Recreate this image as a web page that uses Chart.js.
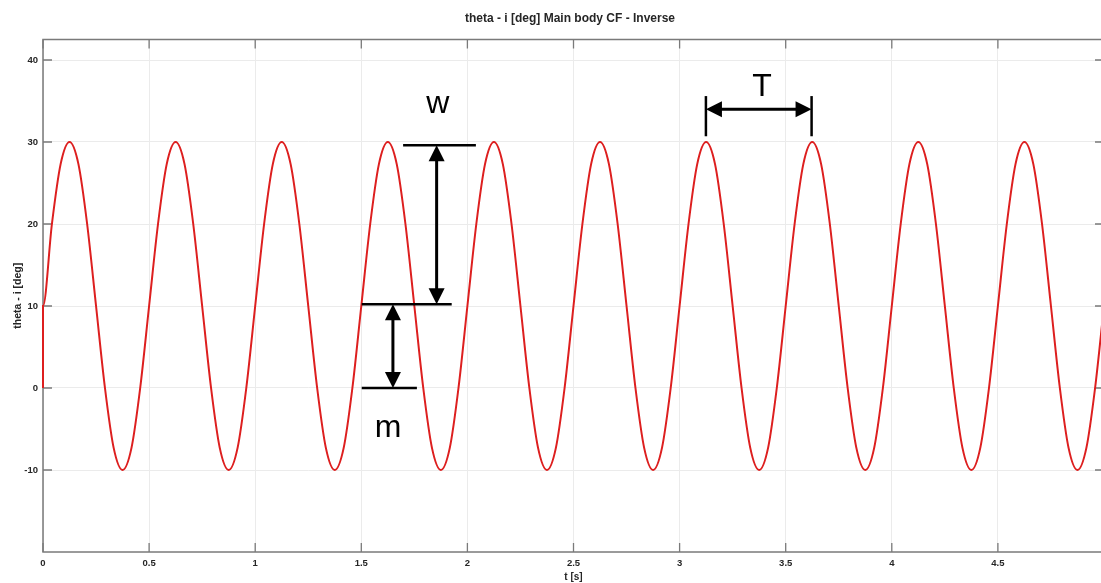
<!DOCTYPE html>
<html>
<head>
<meta charset="utf-8">
<script src="https://cdn.jsdelivr.net/npm/chart.js@4.4.1/dist/chart.umd.min.js"></script>
<style>
  html, body { margin: 0; padding: 0; background: #fff; overflow: hidden; }
  #wrap { width: 1106px; height: 583px; position: relative; }
</style>
</head>
<body>
<div id="wrap"><canvas id="grafico"></canvas></div>
<script>
// === DATA ===
const tempo = [
  0,
  0, 0.042, 0.083, 0.125, 0.167, 0.208, 0.25, 0.292, 0.333, 0.375, 0.417, 0.458,
  0.5, 0.542, 0.583, 0.625, 0.667, 0.708, 0.75, 0.792, 0.833, 0.875, 0.917, 0.958,
  1, 1.042, 1.083, 1.125, 1.167, 1.208, 1.25, 1.292, 1.333, 1.375, 1.417, 1.458,
  1.5, 1.542, 1.583, 1.625, 1.667, 1.708, 1.75, 1.792, 1.833, 1.875, 1.917, 1.958,
  2, 2.042, 2.083, 2.125, 2.167, 2.208, 2.25, 2.292, 2.333, 2.375, 2.417, 2.458,
  2.5, 2.542, 2.583, 2.625, 2.667, 2.708, 2.75, 2.792, 2.833, 2.875, 2.917, 2.958,
  3, 3.042, 3.083, 3.125, 3.167, 3.208, 3.25, 3.292, 3.333, 3.375, 3.417, 3.458,
  3.5, 3.542, 3.583, 3.625, 3.667, 3.708, 3.75, 3.792, 3.833, 3.875, 3.917, 3.958,
  4, 4.042, 4.083, 4.125, 4.167, 4.208, 4.25, 4.292, 4.333, 4.375, 4.417, 4.458,
  4.5, 4.542, 4.583, 4.625, 4.667, 4.708, 4.75, 4.792, 4.833, 4.875, 4.917, 4.958,
  5
];
const theta = [
  0,
  10, 20, 27.3, 30, 27.3, 20, 10, 0, -7.3, -10, -7.3, 0,
  10, 20, 27.3, 30, 27.3, 20, 10, 0, -7.3, -10, -7.3, 0,
  10, 20, 27.3, 30, 27.3, 20, 10, 0, -7.3, -10, -7.3, 0,
  10, 20, 27.3, 30, 27.3, 20, 10, 0, -7.3, -10, -7.3, 0,
  10, 20, 27.3, 30, 27.3, 20, 10, 0, -7.3, -10, -7.3, 0,
  10, 20, 27.3, 30, 27.3, 20, 10, 0, -7.3, -10, -7.3, 0,
  10, 20, 27.3, 30, 27.3, 20, 10, 0, -7.3, -10, -7.3, 0,
  10, 20, 27.3, 30, 27.3, 20, 10, 0, -7.3, -10, -7.3, 0,
  10, 20, 27.3, 30, 27.3, 20, 10, 0, -7.3, -10, -7.3, 0,
  10, 20, 27.3, 30, 27.3, 20, 10, 0, -7.3, -10, -7.3, 0,
  10
];
const xTicks = [0, 0.5, 1, 1.5, 2, 2.5, 3, 3.5, 4, 4.5, 5];
const yTicks = [-10, 0, 10, 20, 30, 40];

const titulo = "theta - i [deg] Main body CF - Inverse";
const xTitulo = "t [s]";
const yTitulo = "theta - i [deg]";

// anotações (em unidades dos dados): w = amplitude, m = média, T = período
const anotW = { t: 1.855, topo: 29.6, base: 10.2, barraTopo: [1.697, 2.04], barraMeio: [1.502, 1.926] };
const anotM = { t: 1.649, topo: 10.2, base: 0, barraBase: [1.502, 1.762] };
const anotT = { t0: 3.124, t1: 3.622, y: 34, barraY: [30.7, 35.6] };
const letras = [
  { txt: "w", t: 1.86, v: 33.5 },
  { txt: "m", t: 1.626, v: -6.0 },
  { txt: "T", t: 3.389, v: 35.6 }
];

const corEixo = "#7a7a7a";
const fonteTick = { family: "'Liberation Sans', Arial, sans-serif", size: 9.5, weight: "bold" };

// === SETAS ===
function seta(ctx, x0, y0, x1, y1) {
  const ang = Math.atan2(y1 - y0, x1 - x0);
  const L = 16, H = 8;
  ctx.beginPath();
  ctx.moveTo(x1, y1);
  ctx.lineTo(x1 - L * Math.cos(ang) + H * Math.sin(ang), y1 - L * Math.sin(ang) - H * Math.cos(ang));
  ctx.lineTo(x1 - L * Math.cos(ang) - H * Math.sin(ang), y1 - L * Math.sin(ang) + H * Math.cos(ang));
  ctx.closePath();
  ctx.fill();
}
function setaDupla(ctx, x0, y0, x1, y1) {
  const ang = Math.atan2(y1 - y0, x1 - x0);
  ctx.beginPath();
  ctx.moveTo(x0 + 12 * Math.cos(ang), y0 + 12 * Math.sin(ang));
  ctx.lineTo(x1 - 12 * Math.cos(ang), y1 - 12 * Math.sin(ang));
  ctx.stroke();
  seta(ctx, x1, y1, x0, y0);
  seta(ctx, x0, y0, x1, y1);
}

// === PLUGIN: caixa e marcas internas (por baixo da curva) ===
const caixa = {
  id: "caixa",
  beforeDatasetsDraw(chart) {
    const { ctx, chartArea: a, scales: { x, y } } = chart;
    ctx.save();
    ctx.strokeStyle = corEixo;
    ctx.lineWidth = 1.3;
    ctx.beginPath();
    xTicks.forEach(v => {
      const px = x.getPixelForValue(v);
      ctx.moveTo(px, a.bottom); ctx.lineTo(px, a.bottom - 9);
      ctx.moveTo(px, a.top); ctx.lineTo(px, a.top + 9);
    });
    yTicks.forEach(v => {
      const py = y.getPixelForValue(v);
      ctx.moveTo(a.left, py); ctx.lineTo(a.left + 9, py);
      ctx.moveTo(a.right, py); ctx.lineTo(a.right - 9, py);
    });
    ctx.stroke();
    ctx.lineWidth = 1.5;
    ctx.strokeRect(a.left, a.top, a.right - a.left, a.bottom - a.top);
    ctx.restore();
  }
};

// === PLUGIN: textos e anotações ===
const extras = {
  id: "extras",
  afterDatasetsDraw(chart) {
    const { ctx, chartArea: a, scales: { x, y } } = chart;
    ctx.save();
    ctx.fillStyle = "#262626";
    ctx.textAlign = "center";
    ctx.textBaseline = "alphabetic";
    ctx.font = "bold 12px 'Liberation Sans', Arial, sans-serif";
    ctx.fillText(titulo, 570, 22);
    ctx.font = "bold 10px 'Liberation Sans', Arial, sans-serif";
    ctx.fillText(xTitulo, (a.left + a.right) / 2, 580);
    ctx.save();
    ctx.translate(21, (a.top + a.bottom) / 2);
    ctx.rotate(-Math.PI / 2);
    ctx.font = "bold 10.5px 'Liberation Sans', Arial, sans-serif";
    ctx.fillText(yTitulo, 0, 0);
    ctx.restore();

    ctx.strokeStyle = "#000";
    ctx.fillStyle = "#000";
    ctx.lineWidth = 2.5;
    const hl = (t0, t1, v) => {
      ctx.beginPath();
      ctx.moveTo(x.getPixelForValue(t0), y.getPixelForValue(v));
      ctx.lineTo(x.getPixelForValue(t1), y.getPixelForValue(v));
      ctx.stroke();
    };
    const vl = (t, v0, v1) => {
      ctx.beginPath();
      ctx.moveTo(x.getPixelForValue(t), y.getPixelForValue(v0));
      ctx.lineTo(x.getPixelForValue(t), y.getPixelForValue(v1));
      ctx.stroke();
    };
    hl(anotW.barraTopo[0], anotW.barraTopo[1], anotW.topo);
    hl(anotW.barraMeio[0], anotW.barraMeio[1], anotW.base);
    hl(anotM.barraBase[0], anotM.barraBase[1], anotM.base);
    vl(anotT.t0, anotT.barraY[0], anotT.barraY[1]);
    vl(anotT.t1, anotT.barraY[0], anotT.barraY[1]);
    ctx.lineWidth = 3;
    setaDupla(ctx, x.getPixelForValue(anotW.t), y.getPixelForValue(anotW.topo),
                   x.getPixelForValue(anotW.t), y.getPixelForValue(anotW.base));
    setaDupla(ctx, x.getPixelForValue(anotM.t), y.getPixelForValue(anotM.topo),
                   x.getPixelForValue(anotM.t), y.getPixelForValue(anotM.base));
    setaDupla(ctx, x.getPixelForValue(anotT.t0), y.getPixelForValue(anotT.y),
                   x.getPixelForValue(anotT.t1), y.getPixelForValue(anotT.y));

    ctx.font = "32px 'Liberation Sans', Arial, sans-serif";
    letras.forEach(l => ctx.fillText(l.txt, x.getPixelForValue(l.t), y.getPixelForValue(l.v)));
    ctx.restore();
  }
};

// === GRÁFICO ===
new Chart(document.getElementById("grafico").getContext("2d"), {
  type: "line",
  data: {
    datasets: [{
      label: "theta - i",
      data: tempo.map((t, i) => ({ x: t, y: theta[i] })),
      borderColor: "#dd1f1f",
      borderWidth: 2,
      pointRadius: 0,
      cubicInterpolationMode: "monotone",
      clip: 3,
      fill: false
    }]
  },
  options: {
    responsive: true,
    maintainAspectRatio: false,
    animation: false,
    layout: { padding: { top: 39.5, right: 2, left: 0, bottom: 0 } },
    plugins: { legend: { display: false }, tooltip: { enabled: false } },
    scales: {
      x: {
        type: "linear",
        min: 0,
        max: 5,
        afterBuildTicks: s => { s.ticks = xTicks.map(v => ({ value: v })); },
        afterFit: s => { s.height = 31; s.paddingLeft = 0; s.paddingRight = 0; },
        ticks: { color: "#262626", font: fonteTick, padding: 6, maxRotation: 0, autoSkip: false,
                 callback: v => String(v) },
        grid: { color: "#ebebeb", drawTicks: false },
        border: { display: false }
      },
      y: {
        type: "linear",
        min: -20,
        max: 42.5,
        afterBuildTicks: s => { s.ticks = yTicks.map(v => ({ value: v })); },
        afterFit: s => { s.width = 43; s.paddingTop = 0; s.paddingBottom = 0; },
        ticks: { color: "#262626", font: fonteTick, padding: 5, callback: v => String(v) },
        grid: { color: "#ebebeb", drawTicks: false },
        border: { display: false }
      }
    }
  },
  plugins: [caixa, extras]
});
</script>
</body>
</html>
